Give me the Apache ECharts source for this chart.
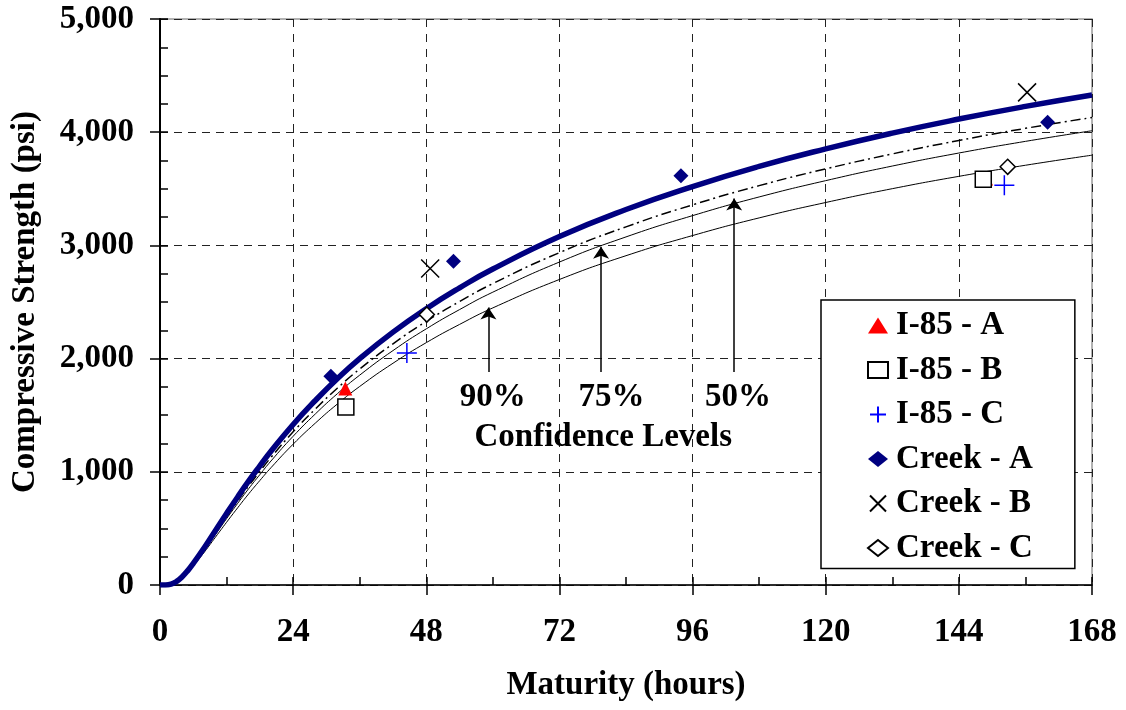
<!DOCTYPE html>
<html>
<head>
<meta charset="utf-8">
<script src="https://cdn.jsdelivr.net/npm/echarts@6/dist/echarts.min.js"></script>
<style>
html,body{margin:0;padding:0;background:#fff;}
#chart{width:1126px;height:710px;}
</style>
</head>
<body>
<div id="chart"></div>
<script>
// ---- data ----
const hours   = [0,1,2,3,4,5,6,8,10,12,14,16,18,20,24,28,32,36,42,48,54,60,72,84,96,108,120,132,144,156,168];
const fitMean = [0,0,8,32,73,127,191,332,482,632,778,919,1052,1181,1418,1630,1824,2000,2234,2441,2625,2791,3078,3317,3520,3698,3853,3992,4116,4228,4329];
const conf50  = [0,0,8,31,70,121,182,317,460,603,742,877,1004,1127,1353,1555,1740,1908,2131,2329,2504,2663,2936,3164,3358,3528,3676,3808,3927,4034,4130];
const conf75  = [0,0,7,30,68,118,177,308,447,586,721,852,975,1095,1314,1511,1691,1854,2071,2263,2433,2587,2853,3075,3263,3428,3572,3701,3816,3919,4013];
const conf90  = [0,0,7,28,64,111,168,291,423,554,682,806,923,1036,1244,1430,1600,1754,1959,2141,2302,2448,2699,2909,3087,3243,3379,3501,3610,3708,3797];

const i85A   = [[33.4,1735],[148.9,3591]];
const i85B   = [[33.5,1572],[148.4,3585]];
const i85C   = [[44.5,2050],[152.2,3532]];
const creekA = [[30.8,1843],[52.9,2860],[93.9,3615],[160.0,4087]];
const creekB = [[48.7,2796],[156.3,4352]];
const creekC = [[48.1,2389],[152.8,3694]];

const legendNames = ['I-85 - A','I-85 - B','I-85 - C','Creek - A','Creek - B','Creek - C'];

const arrowX    = [59.2, 79.5, 103.5];
const arrowFrom = [1882, 1882, 1882];
const arrowTo   = [2451, 2987, 3415];
const labelTexts = ['90%','75%','50%','Confidence Levels'];
const labelX     = [60.0, 81.4, 104.2, 79.9];
const labelY     = [1660, 1660, 1660, 1307];

const xTicks = [0,24,48,72,96,120,144,168];
const yTicks = [0,1000,2000,3000,4000,5000];

// ---- chart ----
const FONT = 'Liberation Serif';
const pair = (vals) => hours.map((h,i)=>[h, vals[i]]);
const txt = {fontFamily: FONT, fontWeight: 'bold', fontSize: 33, color: '#000'};

const arrowLines = arrowX.map((x,i)=>[{coord:[x, arrowFrom[i]]},{coord:[x, arrowTo[i]]}]);

const chart = echarts.init(document.getElementById('chart'), null, {renderer:'canvas'});
chart.setOption({
  animation: false,
  backgroundColor: '#fff',
  grid: {left:160, right:34, top:19, bottom:125, show:true, borderColor:'#999', borderWidth:1.5, backgroundColor:'transparent'},
  xAxis: [{
    type:'value', min:xTicks[0], max:xTicks[xTicks.length-1], interval:24,
    name:'Maturity (hours)', nameLocation:'middle', nameGap:84,
    nameTextStyle: txt,
    axisLine:{show:true, onZero:false, lineStyle:{color:'#000', width:1.5}},
    axisTick:{show:true, inside:false, length:10, lineStyle:{color:'#000', width:1.5}},
    axisLabel:{...txt, margin:31},
    splitLine:{show:true, lineStyle:{color:'#222', width:1, type:[8,7]}}
  },{
    type:'value', min:0, max:168, interval:12, position:'bottom',
    axisLine:{show:false, onZero:false},
    axisTick:{show:true, inside:true, length:8, lineStyle:{color:'#000', width:1.5}},
    axisLabel:{show:false}, splitLine:{show:false}
  }],
  yAxis: [{
    type:'value', min:yTicks[0], max:yTicks[yTicks.length-1], interval:1000,
    name:'Compressive Strength (psi)', nameLocation:'middle', nameGap:118,
    nameTextStyle: txt,
    axisLine:{show:true, onZero:false, lineStyle:{color:'#000', width:2}},
    axisTick:{show:true, inside:false, length:10, lineStyle:{color:'#000', width:1.5}},
    axisLabel:{...txt, margin:26, formatter:(v)=>v.toLocaleString('en-US')},
    splitLine:{show:true, lineStyle:{color:'#222', width:1, type:[8,6]}}
  },{
    type:'value', min:0, max:5000, interval:250, position:'left',
    axisLine:{show:false, onZero:false},
    axisTick:{show:true, inside:true, length:8, lineStyle:{color:'#000', width:1.5}},
    axisLabel:{show:false}, splitLine:{show:false}
  }],
  legend: {
    data: legendNames, orient:'vertical', left:821, top:300,
    padding:[9,42,4,46], itemGap:11.5, itemWidth:20, itemHeight:16,
    borderColor:'#000', borderWidth:1.5, backgroundColor:'#fff',
    textStyle: {...txt, padding:[0,0,0,3]}, selectedMode:false
  },
  series: [
    {type:'line', name:'90%', data:pair(conf90), showSymbol:false, symbol:'none', smooth:true, lineStyle:{color:'#000', width:1}, z:2, silent:true},
    {type:'line', name:'75%', data:pair(conf75), showSymbol:false, symbol:'none', smooth:true, lineStyle:{color:'#000', width:1}, z:2, silent:true},
    {type:'line', name:'50%', data:pair(conf50), showSymbol:false, symbol:'none', smooth:true, lineStyle:{color:'#000', width:1.5, type:[10,4,2,4]}, z:2, silent:true},
    {type:'line', name:'Fit', data:pair(fitMean), showSymbol:false, symbol:'none', smooth:true, lineStyle:{color:'#000080', width:5.5}, z:3, silent:true},
    {type:'scatter', name:'annotations', data:labelTexts.map((t,i)=>({name:t, value:[labelX[i], labelY[i]]})),
      symbolSize:0, silent:true, z:4, itemStyle:{opacity:1},
      label:{show:true, position:'inside', formatter:(p)=>p.name, ...txt},
      markLine:{silent:true, symbol:['none','arrow'], symbolSize:12, label:{show:false},
        lineStyle:{color:'#000', width:1.5, type:'solid', opacity:1}, itemStyle:{color:'#000'}, data:arrowLines}
    },
    {type:'scatter', name:'I-85 - A', data:i85A, symbol:'triangle', symbolSize:14, itemStyle:{color:'#ff0000', opacity:1}, z:5},
    {type:'scatter', name:'I-85 - B', data:i85B, symbol:'rect', symbolSize:16, itemStyle:{color:'#fff', borderColor:'#000', borderWidth:1.5, opacity:1}, z:5},
    {type:'scatter', name:'I-85 - C', data:i85C, symbol:'path://M0,10L20,10M10,0L10,20', symbolSize:20, itemStyle:{color:'none', borderColor:'#0000ff', borderWidth:1.5, opacity:1}, z:5},
    {type:'scatter', name:'Creek - A', data:creekA, symbol:'diamond', symbolSize:15, itemStyle:{color:'#000080', opacity:1}, z:5},
    {type:'scatter', name:'Creek - B', data:creekB, symbol:'path://M0,0L20,20M20,0L0,20', symbolSize:18, itemStyle:{color:'none', borderColor:'#000', borderWidth:1.5, opacity:1}, z:5},
    {type:'scatter', name:'Creek - C', data:creekC, symbol:'diamond', symbolSize:15, itemStyle:{color:'#fff', borderColor:'#000', borderWidth:1.5, opacity:1}, z:5}
  ]
});
</script>
</body>
</html>
